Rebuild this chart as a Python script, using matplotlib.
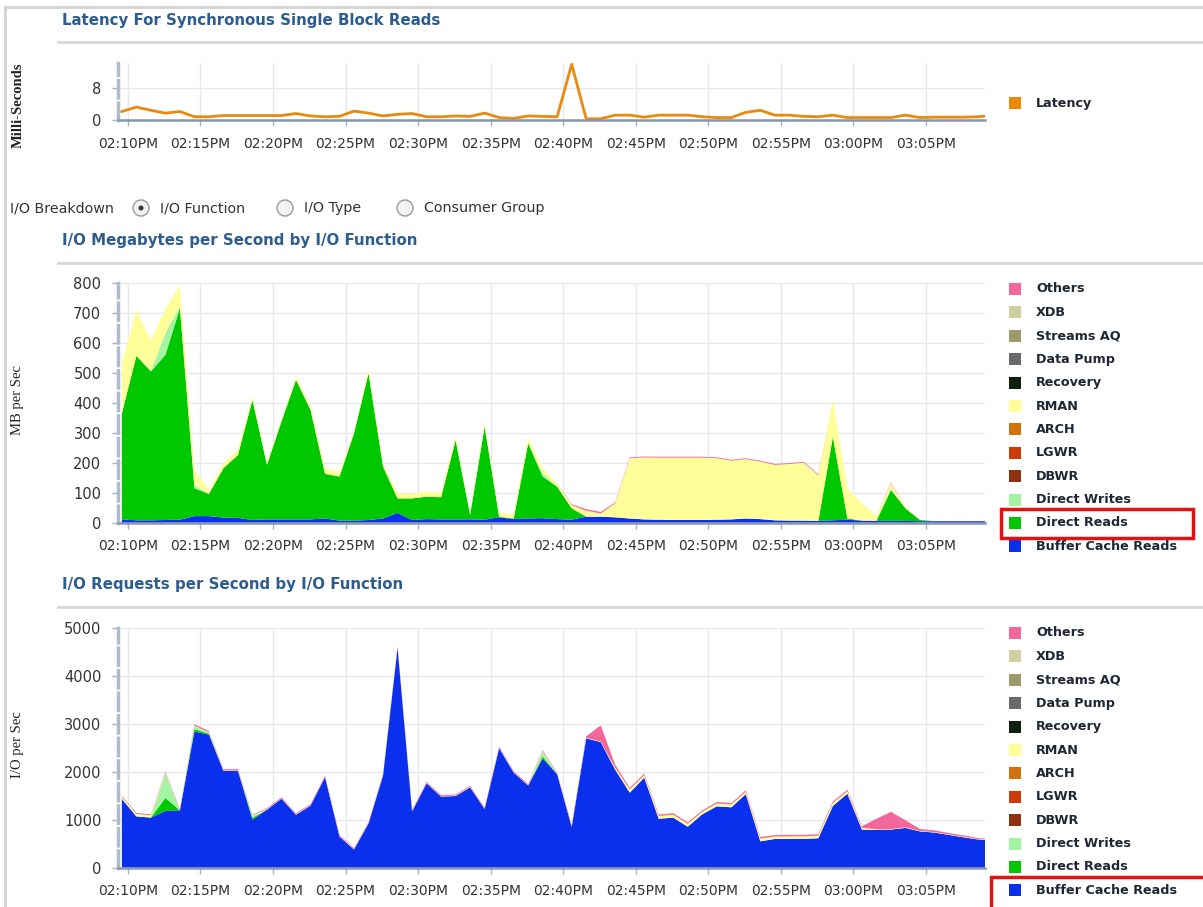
import numpy as np
import pandas as pd
import matplotlib
matplotlib.use("Agg")
import matplotlib.pyplot as plt
import matplotlib.dates as mdates
from matplotlib.patches import Rectangle, Ellipse
from matplotlib.lines import Line2D

# ---------------------------------------------------------------- data
times = pd.date_range("2024-05-14 14:09:35", periods=61, freq="min")
x_start = pd.Timestamp("2024-05-14 14:09:19")
x_end = pd.Timestamp("2024-05-14 15:09:04")

latency_ms = [2.1, 3.2, 2.4, 1.7, 2.1, 0.8, 0.8, 1.1, 1.1, 1.1,
              1.1, 1.1, 1.6, 1.0, 0.8, 0.9, 2.2, 1.7, 1.0, 1.4,
              1.6, 0.8, 0.8, 1.0, 0.9, 1.7, 0.6, 0.4, 1.0, 0.9,
              0.8, 13.8, 0.3, 0.3, 1.2, 1.2, 0.7, 1.2, 1.2, 1.2,
              0.8, 0.6, 0.6, 1.9, 2.4, 1.2, 1.2, 0.9, 0.8, 1.2,
              0.6, 0.6, 0.6, 0.6, 1.2, 0.6, 0.7, 0.7, 0.7, 0.8, 1.1]

functions = ["Others", "XDB", "Streams AQ", "Data Pump", "Recovery", "RMAN",
             "ARCH", "LGWR", "DBWR", "Direct Writes", "Direct Reads",
             "Buffer Cache Reads"]
function_colors = ["#f4679a", "#cfcfa0", "#9c9a6a", "#6a6a6a", "#0d1f0d", "#ffff99",
                   "#d2720c", "#cc3a0a", "#8e3210", "#a3f5a3", "#00c800", "#0a30ee"]

# MB per second by I/O function
mb_buffer_cache = [11, 8, 8, 9, 10, 22, 22, 17, 16, 9,
                   11, 11, 11, 11, 14, 7, 7, 9, 14, 33,
                   9, 12, 11, 11, 11, 10, 18, 12, 14, 15,
                   12, 10, 20, 20, 18, 14, 11, 10, 9, 9,
                   9, 10, 11, 14, 12, 8, 7, 7, 6, 8,
                   10, 7, 6, 6, 6, 5, 5, 5, 5, 5, 5]
mb_direct_reads = [354, 549, 497, 551, 706, 93, 74, 165, 210, 401,
                   182, 327, 466, 366, 149, 147, 292, 490, 173, 48,
                   72, 75, 74, 265, 15, 311, 2, 2, 251, 139,
                   108, 38, 0, 0, 0, 0, 0, 0, 0, 0,
                   0, 0, 0, 0, 0, 0, 0, 0, 0, 279,
                   4, 0, 0, 103, 42, 4, 0, 0, 0, 0, 0]
mb_direct_writes = [0, 0, 0, 73, 5, 10, 0, 0, 0, 0,
                    0, 0, 0, 0, 0, 0, 0, 0, 0, 0,
                    0, 0, 0, 0, 0, 0, 0, 0, 0, 10,
                    0, 0, 0, 0, 0, 0, 0, 0, 0, 0,
                    0, 0, 0, 0, 0, 0, 0, 0, 0, 0,
                    0, 0, 0, 5, 0, 0, 0, 0, 0, 0, 0]
mb_rman = [165, 152, 103, 80, 71, 51, 13, 16, 17, 13,
           7, 7, 9, 11, 19, 16, 5, 13, 9, 17,
           15, 17, 15, 11, 5, 11, 13, 15, 17, 18,
           11, 11, 20, 11, 47, 201, 207, 207, 208, 208,
           208, 205, 196, 198, 192, 185, 189, 193, 152, 123,
           101, 58, 16, 17, 5, 0, 0, 0, 0, 0, 0]
mb_others = [0, 0, 0, 0, 0, 0, 0, 0, 0, 0,
             0, 0, 0, 0, 0, 0, 0, 0, 0, 0,
             0, 0, 0, 0, 0, 0, 0, 0, 0, 0,
             0, 3, 5, 5, 3, 3, 3, 3, 3, 3,
             3, 3, 3, 3, 3, 3, 3, 3, 3, 0,
             0, 0, 0, 3, 0, 0, 0, 0, 0, 0, 0]

# I/O requests per second by I/O function
io_buffer_cache = [1430, 1070, 1045, 1185, 1195, 2840, 2775, 2020, 2020, 1000,
                   1210, 1440, 1105, 1295, 1890, 650, 380, 925, 1925, 4590,
                   1175, 1760, 1485, 1495, 1675, 1225, 2495, 1985, 1715, 2280,
                   1950, 850, 2700, 2620, 2045, 1565, 1880, 1020, 1045, 855,
                   1115, 1280, 1260, 1535, 550, 600, 600, 600, 615, 1290,
                   1545, 795, 790, 795, 830, 758, 733, 684, 634, 590, 565]
io_direct_reads = [10, 0, 0, 270, 0, 50, 20, 0, 0, 40,
                   0, 0, 0, 0, 0, 0, 0, 0, 0, 0,
                   0, 0, 0, 0, 0, 0, 0, 0, 0, 40,
                   0, 0, 0, 0, 0, 0, 0, 0, 0, 0,
                   0, 0, 0, 0, 0, 0, 0, 0, 0, 0,
                   0, 0, 0, 0, 0, 0, 0, 0, 0, 0, 0]
io_direct_writes = [0, 0, 0, 520, 0, 60, 20, 0, 0, 40,
                    0, 0, 0, 0, 0, 0, 0, 0, 0, 0,
                    0, 0, 0, 0, 0, 0, 0, 0, 0, 100,
                    0, 0, 0, 0, 0, 0, 0, 0, 0, 0,
                    0, 0, 0, 0, 0, 0, 0, 0, 0, 0,
                    0, 0, 0, 0, 0, 0, 0, 0, 0, 0, 0]
io_rman = [40, 50, 50, 10, 10, 10, 10, 10, 10, 10,
           10, 10, 10, 10, 10, 10, 10, 10, 10, 10,
           10, 10, 10, 10, 10, 10, 10, 10, 10, 10,
           10, 10, 10, 10, 40, 70, 50, 60, 60, 60,
           50, 60, 60, 50, 60, 50, 55, 55, 55, 60,
           50, 40, 10, 10, 10, 10, 10, 10, 10, 10, 10]
io_others = [20, 20, 20, 20, 20, 30, 25, 25, 25, 15,
             20, 20, 20, 20, 20, 20, 20, 20, 20, 20,
             20, 20, 20, 20, 20, 20, 20, 20, 20, 20,
             20, 20, 30, 340, 60, 30, 30, 30, 30, 30,
             30, 30, 30, 30, 30, 30, 30, 30, 30, 30,
             30, 30, 220, 360, 150, 40, 35, 30, 30, 20, 15]

# ---------------------------------------------------------------- layout helpers
W, H = 1203, 907
fig = plt.figure(figsize=(W / 100, H / 100), dpi=100)
fig.patch.set_facecolor("white")


def fx(px):
    return px / W


def fy(py):
    return 1 - py / H


def box(left, top, right, bottom):
    return [fx(left), fy(bottom), (right - left) / W, (bottom - top) / H]


TITLE_COLOR = "#2d5d8e"
TEXT_COLOR = "#333333"
LEGEND_TEXT = "#1f2733"

# panel frame
fig.add_artist(Line2D([fx(5), fx(5)], [fy(7), fy(H + 5)], color="#d3d3d3", lw=2))
fig.add_artist(Line2D([fx(5), fx(W + 5)], [fy(7), fy(7)], color="#d3d3d3", lw=2))


def section_title(text, y_text, y_rule):
    fig.text(fx(62), fy(y_text), text, fontsize=10.8, fontweight="bold",
             color=TITLE_COLOR, va="center", ha="left")
    fig.add_artist(Line2D([fx(58), fx(W + 5)], [fy(y_rule), fy(y_rule)],
                          color="#d6d6d6", lw=2))


def style_axes(ax, ylim, yticks):
    ax.set_xlim(mdates.date2num(x_start), mdates.date2num(x_end))
    ax.set_ylim(*ylim)
    ax.set_yticks(yticks)
    ax.xaxis.set_major_locator(mdates.MinuteLocator(byminute=range(0, 60, 5)))
    ax.xaxis.set_major_formatter(mdates.DateFormatter("%I:%M%p"))
    ax.grid(True, color="#e7e8ee", lw=1)
    ax.set_axisbelow(True)
    for side in ("top", "right"):
        ax.spines[side].set_visible(False)
    ax.spines["left"].set_color("#aebcd0")
    ax.spines["left"].set_linewidth(2.5)
    ax.spines["left"].set_linestyle((0, (5, 1.5)))
    ax.spines["bottom"].set_color("#8797ad")
    ax.spines["bottom"].set_linewidth(1.8)
    ax.tick_params(axis="x", length=4, width=1, color="#a4b2c6", pad=8,
                   labelsize=10, labelcolor=TEXT_COLOR)
    ax.tick_params(axis="y", length=4, width=1, color="#a4b2c6", pad=8,
                   labelsize=10.5, labelcolor=TEXT_COLOR)
    ax.set_facecolor("white")


def legend_rows(labels, colors, y_first, step=23.4, red_box=None):
    for i, (lab, col) in enumerate(zip(labels, colors)):
        yc = y_first + i * step
        fig.add_artist(Rectangle((fx(1009), fy(yc + 6)), 12 / W, 12 / H,
                                 transform=fig.transFigure, facecolor=col,
                                 edgecolor="none"))
        fig.text(fx(1036), fy(yc), lab, fontsize=9.2, fontweight="bold",
                 color=LEGEND_TEXT, va="center", ha="left")
    if red_box is not None:
        l, t, r, b = red_box
        fig.add_artist(Rectangle((fx(l), fy(b)), (r - l) / W, (b - t) / H,
                                 transform=fig.transFigure, facecolor="none",
                                 edgecolor="#e01212", lw=2.5))


def stack_series(ax, layers):
    # layers given top-to-bottom as in the legend; stack bottom-up
    ordered = list(reversed(layers))
    cols = list(reversed(function_colors))
    ax.stackplot(mdates.date2num(times.to_pydatetime()),
                 *[np.asarray(v, dtype=float) for v in ordered],
                 colors=cols, linewidth=0)


def axis_caption(y, text, bold=False):
    fig.text(fx(18), fy(y), text, rotation=90, fontsize=10.5,
             fontweight="bold" if bold else "normal", family="Liberation Serif",
             color="#222222", va="center", ha="center")


zeros = [0] * len(times)

# ---------------------------------------------------------------- latency
section_title("Latency For Synchronous Single Block Reads", 20, 42)
ax1 = fig.add_axes(box(118, 63, 985, 120))
ax1.plot(mdates.date2num(times.to_pydatetime()), latency_ms, color="#e88a0c", lw=2.0)
style_axes(ax1, (0, 14.1), [0, 8])
axis_caption(105, "Milli-Seconds", bold=True)
fig.add_artist(Rectangle((fx(1009), fy(109)), 12 / W, 12 / H,
                         transform=fig.transFigure, facecolor="#e88a0c",
                         edgecolor="none"))
fig.text(fx(1036), fy(103), "Latency", fontsize=9.2, fontweight="bold",
         color=LEGEND_TEXT, va="center", ha="left")

# ---------------------------------------------------------------- breakdown selector
fig.text(fx(10), fy(208), "I/O Breakdown", fontsize=10.3, color=TEXT_COLOR,
         va="center", ha="left")
for cx, label, selected in [(141, "I/O Function", True), (285, "I/O Type", False),
                            (405, "Consumer Group", False)]:
    fig.add_artist(Ellipse((fx(cx), fy(208)), 16 / W, 16 / H,
                           transform=fig.transFigure, facecolor="#f3f3f3",
                           edgecolor="#9a9a9a", lw=1))
    if selected:
        fig.add_artist(Ellipse((fx(cx), fy(208)), 5 / W, 5 / H,
                               transform=fig.transFigure, facecolor="#333333",
                               edgecolor="none"))
    fig.text(fx(cx + 19), fy(208), label, fontsize=10.3, color=TEXT_COLOR,
             va="center", ha="left")

# ---------------------------------------------------------------- MB per second
section_title("I/O Megabytes per Second by I/O Function", 241, 263)
ax2 = fig.add_axes(box(118, 283, 985, 522.7))
mb_layers = [mb_others, zeros, zeros, zeros, zeros, mb_rman, zeros, zeros, zeros,
             mb_direct_writes, mb_direct_reads, mb_buffer_cache]
stack_series(ax2, mb_layers)
style_axes(ax2, (0, 800), range(0, 801, 100))
axis_caption(400, "MB per Sec")
legend_rows(functions, function_colors, 289, red_box=(1001, 509, 1193, 538))

# ---------------------------------------------------------------- requests per second
section_title("I/O Requests per Second by I/O Function", 585, 607)
ax3 = fig.add_axes(box(118, 628, 985, 867.7))
io_layers = [io_others, zeros, zeros, zeros, zeros, io_rman, zeros, zeros, zeros,
             io_direct_writes, io_direct_reads, io_buffer_cache]
stack_series(ax3, io_layers)
style_axes(ax3, (0, 5000), range(0, 5001, 1000))
axis_caption(745, "I/O per Sec")
legend_rows(functions, function_colors, 633, red_box=(991, 877, 1215, 915))

fig.savefig("out.png", dpi=100)
